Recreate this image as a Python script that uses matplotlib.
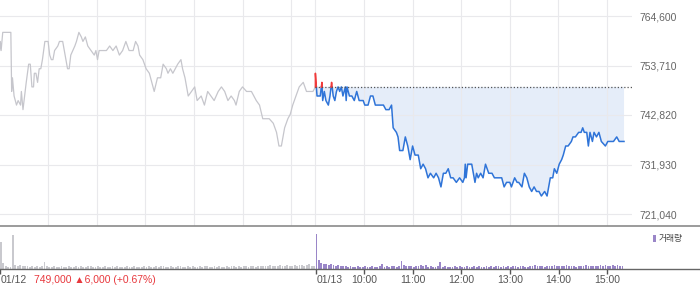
import numpy as np
import matplotlib
matplotlib.use("Agg")
import matplotlib.pyplot as plt
from matplotlib.transforms import blended_transform_factory
from matplotlib.patches import Rectangle

plt.rcParams['font.family'] = ['Liberation Sans', 'DejaVu Sans', 'Noto Sans CJK KR']

# minutes after 09:00, price in won
day1_min = [0, 1, 2, 4, 14, 15, 16, 18, 21, 23, 26, 27, 29, 33, 36, 38, 40, 42, 43, 45,
            47, 49, 51, 53, 56, 60, 62, 64, 66, 68, 72, 74, 78, 80, 84, 86, 88, 93, 95, 98,
            101, 103, 106, 109, 113, 117, 119, 121, 123, 128, 132, 136, 140, 144, 148, 152,
            156, 160, 165, 168, 171, 173, 177, 181, 185, 188, 191, 195, 199, 202, 206, 208,
            211, 214, 217, 220, 224, 226, 229, 233, 237, 241, 244, 249, 253, 257, 261, 265,
            270, 274, 278, 282, 286, 290, 292, 296, 300, 305, 311, 317, 321, 325, 329, 333,
            338, 342, 345, 348, 352, 356, 359, 362, 366, 370, 375, 379, 383, 387, 390]
day1_price = [757, 759, 757, 761, 761, 748, 751, 747, 745, 746, 745, 748, 744, 750, 754, 754,
              749, 749, 752, 752, 750, 753, 753, 755, 759, 759, 756, 755, 755, 757, 758, 759,
              759, 757, 753, 753, 756, 758, 759, 761, 760, 759, 760, 758, 757, 756, 757, 755,
              757, 757, 757, 758, 757, 758, 756, 757, 759, 757, 757, 759, 758, 756, 755, 753,
              752, 750, 748, 751, 751, 754, 753, 752, 753, 752, 753, 754, 755, 753, 751, 747,
              748, 749, 746, 747, 745, 748, 747, 746, 748, 749, 748, 746, 747, 746, 745, 748,
              749, 748, 748, 746, 745, 742, 742, 742, 741, 739, 736, 736, 740, 742, 743, 745,
              747, 749, 750, 748, 748, 748, 749]

day2_min = [0, 2, 4, 6, 8, 9, 11, 13, 16, 18, 20, 22, 24, 26, 28, 30, 32, 34, 37, 38, 39,
            42, 45, 48, 51, 54, 57, 59, 61, 65, 68, 71, 74, 78, 81, 84, 87, 91, 94, 96, 100,
            102, 104, 108, 111, 114, 117, 120, 123, 127, 130, 133, 136, 139, 142, 146, 149,
            152, 155, 158, 161, 164, 167, 170, 174, 178, 182, 184, 185, 186, 188, 193, 195,
            197, 199, 201, 204, 207, 210, 214, 218, 221, 224, 226, 230, 233, 236, 240, 242,
            246, 249, 251, 255, 258, 261, 264, 267, 270, 273, 276, 279, 283, 286, 288, 290,
            293, 295, 298, 301, 304, 306, 309, 312, 316, 318, 321, 325, 328, 330, 332, 335,
            337, 339, 342, 344, 347, 350, 353, 358, 361, 364, 368, 372, 375, 378, 381]
day2_price = [752, 747, 747, 747, 750, 746, 748, 746, 745, 747, 750, 747, 746, 748, 749, 748,
              749, 747, 749, 746, 749, 747, 747, 746, 748, 746, 746, 746, 745, 745, 747, 747,
              745, 745, 745, 745, 744, 744, 745, 740, 739, 738, 735, 735, 738, 736, 733, 736,
              734, 734, 731, 732, 731, 729, 730, 729, 730, 729, 727, 730, 730, 731, 729, 729,
              728, 729, 728, 729, 732, 729, 732, 732, 730, 728, 730, 729, 730, 729, 732, 730,
              730, 729, 729, 729, 729, 727, 728, 728, 727, 729, 728, 728, 727, 730, 729, 727,
              726, 727, 726, 726, 725, 726, 725, 727, 729, 729, 731, 730, 732, 733, 734, 736,
              736, 737, 738, 738, 739, 739, 740, 739, 739, 736, 739, 737, 739, 738, 739, 737,
              736, 737, 737, 737, 738, 737, 737, 737]

prev_close = 749000
y_ticks = [721040, 731930, 742820, 753710, 764600]
x_ticks = [0, 390, 450, 510, 570, 630, 690, 750]
x_labels = ['01/12', '01/13', '10:00', '11:00', '12:00', '13:00', '14:00', '15:00']
grid_x = [60, 120, 180, 240, 300, 360, 390, 450, 510, 570, 630, 690, 750]
info_text = '749,000 \u25b26,000 (+0.67%)'

# volume per 3-minute bin
vol1 = [27, 6, 3, 2, 2, 34, 4, 3, 4, 3,
        3, 3, 2, 3, 2, 3, 2, 3, 7, 3,
        2, 2, 3, 2, 2, 3, 2, 2, 3, 2,
        2, 3, 2, 3, 2, 2, 3, 3, 2, 2,
        3, 2, 2, 3, 2, 2, 3, 2, 3, 2,
        2, 2, 3, 2, 2, 3, 2, 2, 2, 3,
        2, 3, 2, 2, 3, 2, 3, 3, 2, 2,
        3, 2, 2, 3, 3, 2, 2, 3, 2, 3,
        2, 2, 3, 2, 3, 3, 2, 2, 3, 2,
        3, 2, 2, 3, 2, 3, 3, 2, 3, 2,
        3, 3, 2, 3, 3, 2, 3, 3, 3, 3,
        3, 4, 3, 3, 3, 4, 3, 3, 4, 3,
        3, 4, 3, 4, 4, 3, 4, 5, 3, 3]
vol2 = [35, 9, 6, 5, 5, 4, 5, 4, 3, 4,
        3, 3, 3, 2, 3, 2, 2, 3, 2, 2,
        3, 2, 2, 3, 2, 2, 3, 5, 2, 3,
        2, 3, 3, 2, 3, 8, 4, 3, 3, 3,
        2, 3, 3, 4, 3, 4, 2, 3, 2, 2,
        3, 7, 2, 3, 2, 2, 2, 3, 2, 3,
        2, 2, 3, 2, 2, 3, 2, 3, 2, 2,
        3, 2, 3, 2, 3, 3, 2, 3, 2, 3,
        2, 3, 3, 2, 3, 3, 2, 2, 3, 3,
        4, 3, 3, 3, 2, 3, 3, 3, 4, 3,
        3, 3, 3, 4, 3, 3, 3, 2, 3, 3,
        3, 4, 3, 3, 3, 3, 3, 4, 3, 4,
        3, 3, 4, 3, 4, 3, 3]

t1 = np.array(day1_min, float)
p1 = np.array(day1_price, float) * 1000
t2 = np.r_[390, np.array(day2_min, float) + 390]
p2 = np.r_[prev_close, np.array(day2_price, float) * 1000]


def with_crossings(t, p, level):
    tt, pp = [t[0]], [p[0]]
    for i in range(1, len(t)):
        a, b = p[i - 1] - level, p[i] - level
        if a * b < 0:
            f = a / (a - b)
            tt.append(t[i - 1] + f * (t[i] - t[i - 1]))
            pp.append(level)
        tt.append(t[i])
        pp.append(p[i])
    return np.array(tt), np.array(pp)


fig = plt.figure(figsize=(7, 2.89), dpi=100)
ax = fig.add_axes([0, 1 - 225.5 / 289, 632 / 700, 225.5 / 289])
axv = fig.add_axes([0, 1 - 268.7 / 289, 1.0, 43.2 / 289])

xmin = 0.5 / 0.81
ax.set_xlim(xmin, (632 + 0.5) / 0.81)
ax.set_ylim(718510, 768120)
ax.set_xticks(grid_x)
ax.set_yticks(y_ticks)
ax.set_yticklabels([f'{v:,}' for v in y_ticks])
ax.yaxis.tick_right()
ax.tick_params(axis='y', length=0, pad=5, labelsize=7.5, labelcolor='#666666')
ax.tick_params(axis='x', length=0, labelbottom=False)
ax.grid(True, color='#e9e9ec', lw=0.8)
for s in ax.spines.values():
    s.set_visible(False)

ax.plot(t1, p1, color='#c6c6cc', lw=0.9)

td, pd_ = with_crossings(t2, p2, prev_close)
ax.fill_between(td, pd_, prev_close, where=pd_ <= prev_close, color='#e5edf9', lw=0)
ax.fill_between(td, pd_, prev_close, where=pd_ >= prev_close, color='#fbe6e6', lw=0)
ax.plot(td, np.where(pd_ <= prev_close, pd_, np.nan), color='#2f74d8', lw=1.1)
ax.plot(td, np.where(pd_ >= prev_close, pd_, np.nan), color='#f03a3a', lw=1.1)
ax.hlines(prev_close, 390, (632 + 0.5) / 0.81, colors='#555555',
          linestyles=(0, (1, 1.6)), lw=0.9)

# volume panel
axv.set_xlim(xmin, (700 + 0.5) / 0.81)
axv.set_ylim(0, 43.2)
axv.bar(np.arange(len(vol1)) * 3 + 1, vol1, width=2.2, color='#c9c9ce', lw=0)
axv.bar(np.arange(len(vol2)) * 3 + 391, vol2, width=2.2, color='#9a86c8', lw=0)
axv.set_xticks(x_ticks)
axv.set_yticks([])
axv.tick_params(axis='x', direction='out', length=3.5, width=1, color='#555555',
                labelbottom=False)
axv.spines['left'].set_visible(False)
axv.spines['right'].set_visible(False)
axv.spines['top'].set_color('#8a8a8a')
axv.spines['top'].set_linewidth(1.2)
axv.spines['bottom'].set_color('#666666')
axv.spines['bottom'].set_linewidth(1.0)

tr = blended_transform_factory(axv.transData, fig.transFigure)
ylab = 1 - 280 / 289
for x, lab in zip(x_ticks, x_labels):
    ha = 'left' if lab.startswith('01/') else 'center'
    axv.text(x + (1 if ha == 'left' else 0), ylab, lab, transform=tr, ha=ha, va='center',
             fontsize=7.5, color='#555555', clip_on=False)
fig.text(34 / 700, ylab, info_text, ha='left', va='center', fontsize=7.5, color='#e8383d')

fig.patches.append(Rectangle((653 / 700, 1 - 241.5 / 289), 3 / 700, 7 / 289,
                             transform=fig.transFigure, color='#9a86c8', lw=0))
fig.text(659 / 700, 1 - 238.5 / 289, '거래량', ha='left', va='center', fontsize=6.3,
         color='#444444', family=['Noto Sans CJK KR'])

fig.savefig('out.png', dpi=100)
